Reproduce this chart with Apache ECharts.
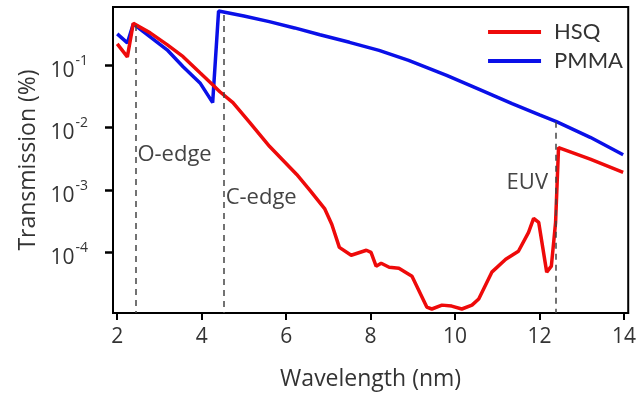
<!DOCTYPE html>
<html>
<head>
<meta charset="utf-8">
<script src="https://cdn.jsdelivr.net/npm/echarts@6/dist/echarts.min.js"></script>
<style>
  html, body { margin: 0; padding: 0; background: #fff; }
  #main { width: 639px; height: 396px; }
</style>
</head>
<body>
<div id="main"></div>
<script>
// wavelength (nm) / transmission pairs
var hsqX = [2.0, 2.24, 2.38, 2.78, 3.18, 3.56, 3.96, 4.26, 4.43, 4.74, 5.14, 5.61, 6.25, 6.55, 6.91, 7.08, 7.26, 7.54, 7.9, 8.01, 8.13, 8.25, 8.44, 8.67, 8.98, 9.33, 9.45, 9.69, 9.92, 10.16, 10.4, 10.56, 10.87, 11.2, 11.5, 11.74, 11.86, 11.98, 12.17, 12.28, 12.38, 12.45, 13.2, 13.98];
var hsqY = [0.216, 0.134, 0.46, 0.324, 0.21, 0.135, 0.0745, 0.0479, 0.0371, 0.0248, 0.0119, 0.00492, 0.00176, 0.00101, 0.000501, 0.000282, 0.00012, 0.0000899, 0.000108, 0.0001, 0.00006, 0.000067, 0.0000578, 0.0000557, 0.0000416, 0.0000133, 0.0000124, 0.0000143, 0.0000138, 0.0000124, 0.0000143, 0.0000179, 0.0000482, 0.0000776, 0.000104, 0.000209, 0.00035, 0.000302, 0.0000482, 0.00006, 0.0003, 0.00474, 0.0031, 0.00191];

var pmmaX = [2.0, 2.24, 2.38, 2.78, 3.18, 3.56, 3.96, 4.26, 4.4, 5.0, 5.6, 6.2, 6.8, 7.5, 8.2, 8.9, 9.8, 10.6, 11.35, 12.0, 12.4, 13.2, 13.98];
var pmmaY = [0.312, 0.224, 0.451, 0.28, 0.174, 0.0933, 0.0513, 0.0248, 0.724, 0.603, 0.49, 0.389, 0.302, 0.229, 0.17, 0.1175, 0.0676, 0.0398, 0.024, 0.0158, 0.0123, 0.00692, 0.00365];

var xTicks = [2, 4, 6, 8, 10, 12, 14];
var yTicks = [0.1, 0.01, 0.001, 0.0001];

// absorption edges: position, top of dashed line, label anchor
var edgeNames = ['O-edge', 'C-edge', 'EUV'];
var edgeX = [2.43, 4.52, 12.39];
var edgeTop = [0.435, 0.627, 0.0123];
var edgeLabelY = [0.00367, 0.00076, 0.00132];

function pairs(xs, ys) {
  return xs.map(function (x, i) { return [x, ys[i]]; });
}

var yMin = 1.07e-5, yMax = 0.841;
var textColor = '#333';
var font = '"Open Sans", Lato, sans-serif';
var legendFont = 'Lato, sans-serif';

var edgeLines = edgeX.map(function (x, i) {
  return [{ coord: [x, edgeTop[i]] }, { coord: [x, yMin] }];
});
var edgeLabels = edgeX.map(function (x, i) {
  return {
    coord: [x, edgeLabelY[i]],
    value: edgeNames[i],
    label: {
      position: i === 2 ? 'left' : 'right',
      distance: i === 2 ? 8 : 2
    }
  };
});

var chart = echarts.init(document.getElementById('main'));
chart.setOption({
  animation: false,
  textStyle: { fontFamily: font },
  grid: {
    left: 113, right: 9, top: 7, bottom: 82,
    show: true, borderColor: '#000', borderWidth: 2
  },
  legend: {
    orient: 'vertical',
    right: 11, top: 16,
    icon: 'rect',
    itemWidth: 53, itemHeight: 4,
    itemGap: 7,
    textStyle: { fontSize: 22, color: textColor, fontFamily: legendFont, padding: [0, 0, 0, 8] },
    data: ['HSQ', 'PMMA']
  },
  xAxis: {
    type: 'value',
    min: 1.9, max: 14.1,
    name: 'Wavelength (nm)',
    nameLocation: 'middle',
    nameGap: 55,
    nameTextStyle: { fontSize: 23, color: textColor, fontFamily: font },
    splitLine: { show: false },
    axisLine: { lineStyle: { color: '#000', width: 2 } },
    axisTick: { customValues: xTicks, length: 7, lineStyle: { color: '#000', width: 2 } },
    axisLabel: { customValues: xTicks, fontSize: 21, color: textColor, fontFamily: font, margin: 14 }
  },
  yAxis: {
    type: 'log',
    min: yMin, max: yMax,
    name: 'Transmission (%)',
    nameLocation: 'middle',
    nameGap: 70,
    nameTextStyle: { fontSize: 23, color: textColor, fontFamily: font },
    splitLine: { show: false },
    axisLine: { lineStyle: { color: '#000', width: 2 } },
    axisTick: { customValues: yTicks, length: 8, lineStyle: { color: '#000', width: 2.5 } },
    axisLabel: {
      customValues: yTicks,
      margin: 25,
      formatter: function (v) {
        return '{b|10}{s|' + Math.round(Math.log10(v)) + '}';
      },
      rich: {
        b: { fontSize: 21, color: textColor, fontFamily: font, padding: [12, 0, 0, 0] },
        s: { fontSize: 14, color: textColor, fontFamily: font, padding: [0, 0, 8, 1] }
      }
    }
  },
  series: [
    {
      name: 'HSQ',
      type: 'line',
      data: pairs(hsqX, hsqY),
      showSymbol: false,
      color: '#ee0a0a',
      lineStyle: { width: 3.5 },
      z: 3,
      markLine: {
        silent: true,
        symbol: 'none',
        label: { show: false },
        lineStyle: { color: '#444', width: 1.5, type: [6, 5] },
        data: edgeLines
      },
      markPoint: {
        silent: true,
        symbol: 'circle',
        symbolSize: 0,
        label: {
          show: true,
          formatter: '{c}',
          fontSize: 22,
          color: '#444',
          fontFamily: font
        },
        data: edgeLabels
      }
    },
    {
      name: 'PMMA',
      type: 'line',
      data: pairs(pmmaX, pmmaY),
      showSymbol: false,
      color: '#0a10e8',
      lineStyle: { width: 3.5 },
      z: 2
    }
  ]
});
</script>
</body>
</html>
